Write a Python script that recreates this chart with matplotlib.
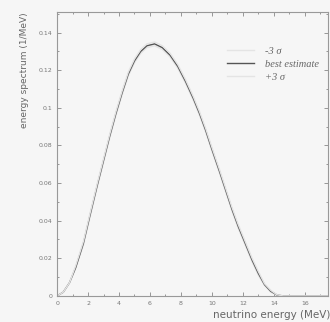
import matplotlib
matplotlib.use("Agg")
import matplotlib.pyplot as plt
from matplotlib.ticker import MultipleLocator

# neutrino energy (MeV) and spectrum values
energy = [0, 0.4, 0.8, 1.2, 1.7, 2.1, 2.6, 3.0, 3.4, 3.8, 4.2, 4.6, 5.0,
          5.4, 5.8, 6.3, 6.8, 7.3, 7.8, 8.3, 8.8, 9.2, 9.6, 10.0, 10.5,
          10.9, 11.3, 11.7, 12.1, 12.6, 13.0, 13.4, 13.8, 14.2, 14.6, 17.5]
best = [0, 0.002, 0.007, 0.015, 0.028, 0.042, 0.059, 0.072, 0.085, 0.097,
        0.108, 0.118, 0.125, 0.130, 0.133, 0.134, 0.132, 0.128, 0.122,
        0.114, 0.105, 0.097, 0.088, 0.078, 0.066, 0.056, 0.046, 0.037,
        0.029, 0.019, 0.012, 0.006, 0.0025, 0.0005, 0, 0]
minus3 = [0, 0.002, 0.007, 0.015, 0.027, 0.041, 0.058, 0.071, 0.084, 0.096,
          0.107, 0.117, 0.124, 0.129, 0.132, 0.133, 0.131, 0.127, 0.121,
          0.113, 0.104, 0.096, 0.087, 0.077, 0.065, 0.055, 0.045, 0.036,
          0.028, 0.018, 0.011, 0.0055, 0.002, 0.0004, 0, 0]
plus3 = [0, 0.002, 0.007, 0.016, 0.029, 0.043, 0.060, 0.073, 0.086, 0.098,
         0.109, 0.119, 0.126, 0.131, 0.134, 0.135, 0.133, 0.129, 0.123,
         0.115, 0.106, 0.098, 0.089, 0.079, 0.067, 0.057, 0.047, 0.038,
         0.030, 0.020, 0.013, 0.0065, 0.003, 0.0006, 0, 0]

labels = ["-3 σ", "best estimate", "+3 σ"]
yticks = [0, 0.02, 0.04, 0.06, 0.08, 0.1, 0.12, 0.14]
ytick_labels = ["0", "0.02", "0.04", "0.06", "0.08", "0.1", "0.12", "0.14"]

fig = plt.figure(figsize=(3.3, 3.22), dpi=100, facecolor="#f6f6f6")
ax = fig.add_axes([0.173, 0.081, 0.821, 0.882], facecolor="#f6f6f6")

ax.plot(energy, minus3, color="#e4e4e4", lw=1.0, label=labels[0])
ax.plot(energy, best, color="#555555", lw=1.0, label=labels[1])
ax.plot(energy, plus3, color="#e4e4e4", lw=1.0, label=labels[2])

ax.set_xlim(0, 17.5)
ax.set_ylim(0, 0.151)
ax.xaxis.set_major_locator(MultipleLocator(2))
ax.xaxis.set_minor_locator(MultipleLocator(1))
ax.yaxis.set_minor_locator(MultipleLocator(0.01))
ax.set_yticks(yticks)
ax.set_yticklabels(ytick_labels)

ax.tick_params(which="both", direction="in", top=True, right=True,
               colors="#888888", labelcolor="#777777", labelsize=4.5,
               width=0.6)
ax.tick_params(which="major", length=3)
ax.tick_params(which="minor", length=1.5)
for s in ax.spines.values():
    s.set_color("#999999")
    s.set_linewidth(0.8)

leg = ax.legend(loc="upper right", bbox_to_anchor=(1.0, 0.91), frameon=False,
                handlelength=2.6, handletextpad=1.0, labelspacing=0.35,
                prop={"family": "Liberation Serif", "style": "italic", "size": 7.5})
for t in leg.get_texts():
    t.set_color("#666666")

fig.text(0.073, 0.963, "energy spectrum (1/MeV)", rotation=90, ha="center",
         va="top", fontsize=6.5, color="#666666")
fig.text(1.0, 0.005, "neutrino energy (MeV)", ha="right", va="bottom",
         fontsize=7.5, color="#666666")

fig.savefig("out.png", dpi=100, facecolor=fig.get_facecolor())
